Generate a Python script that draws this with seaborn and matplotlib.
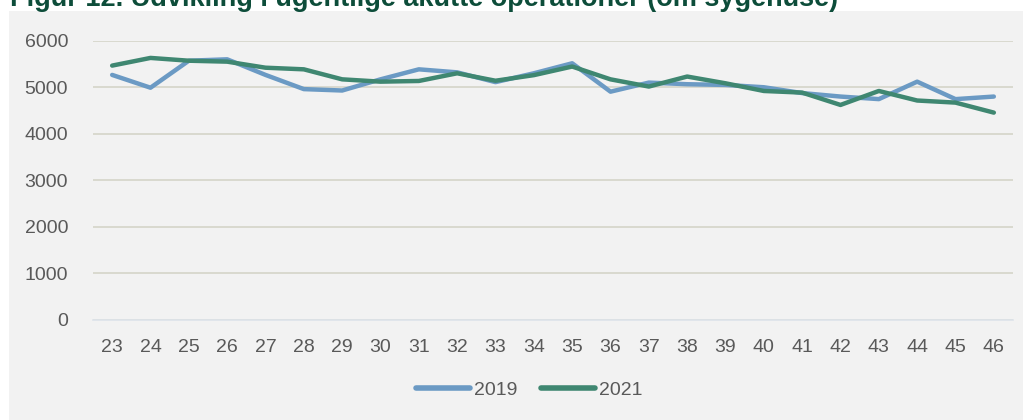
import matplotlib
matplotlib.use("Agg")
import matplotlib.pyplot as plt
import seaborn as sns
import pandas as pd
from matplotlib.patches import Rectangle
from matplotlib.lines import Line2D

weeks = list(range(23, 47))
v2019 = [5265, 4990, 5570, 5600, 5265, 4960, 4930, 5170, 5385, 5320, 5110, 5300, 5515,
         4905, 5100, 5065, 5050, 5000, 4875, 4800, 4745, 5120, 4745, 4800]
v2021 = [5465, 5630, 5570, 5550, 5420, 5385, 5170, 5120, 5135, 5300, 5140, 5260, 5445,
         5170, 5015, 5230, 5085, 4920, 4885, 4620, 4920, 4715, 4670, 4455]
series = ["2019", "2021"]
colors = ["#6b9ac4", "#3f8771"]
yticks = [0, 1000, 2000, 3000, 4000, 5000, 6000]
title = "Figur 12. Udvikling i ugentlige akutte operationer (om sygehuse)"

df = pd.DataFrame({
    "Uge": weeks * 2,
    "Antal": v2019 + v2021,
    "År": [series[0]] * len(weeks) + [series[1]] * len(weeks),
})

sns.set_theme(style="white")
plt.rcParams["font.family"] = ["Liberation Sans", "DejaVu Sans"]

W, H = 1023, 420
fig = plt.figure(figsize=(W / 100, H / 100), dpi=100)
fig.patch.set_facecolor("white")
fig.patches.append(Rectangle((9 / W, 0), 1 - 9 / W, (H - 11) / H,
                             transform=fig.transFigure, facecolor="#f2f2f2",
                             edgecolor="none", zorder=-10))

ax = fig.add_axes([93 / W, (H - 320) / H, (1013 - 93) / W, (320 - 40.7) / H])
ax.set_zorder(5)
ax.set_facecolor("none")

sns.lineplot(data=df, x="Uge", y="Antal", hue="År", palette=dict(zip(series, colors)),
             linewidth=3.2, ax=ax, legend=False, solid_capstyle="round",
             solid_joinstyle="round")

ax.set_xlim(weeks[0] - 0.5, weeks[-1] + 0.5)
ax.set_ylim(0, 6000)
ax.set_yticks(yticks)
ax.set_xticks(weeks)
ax.set_xticklabels([str(w) for w in weeks])
ax.grid(axis="y", color="#d5d5c8", linewidth=1.2)
ax.grid(axis="x", visible=False)
ax.set_axisbelow(True)
for s in ["top", "right", "left"]:
    ax.spines[s].set_visible(False)
ax.spines["bottom"].set_color("#dde3ea")
ax.spines["bottom"].set_linewidth(1.2)
ax.tick_params(axis="both", length=0, labelsize=14, labelcolor="#595959")
ax.tick_params(axis="y", pad=18)
ax.tick_params(axis="x", pad=14)
ax.set_xlabel("")
ax.set_ylabel("")

handles = [Line2D([0], [0], color=c, linewidth=4, solid_capstyle="round") for c in colors]
fig.legend(handles, series, loc="center", bbox_to_anchor=(529 / W, (H - 390) / H),
           ncol=2, frameon=False, fontsize=14, labelcolor="#595959",
           handlelength=2.8, handletextpad=0.2, columnspacing=1.2)

fig.text(10 / W, (H - 6) / H, title, fontsize=19.5, fontweight="bold",
         color="#0d4d3a", ha="left", va="baseline")

fig.savefig("out.png", dpi=100, facecolor="white")
